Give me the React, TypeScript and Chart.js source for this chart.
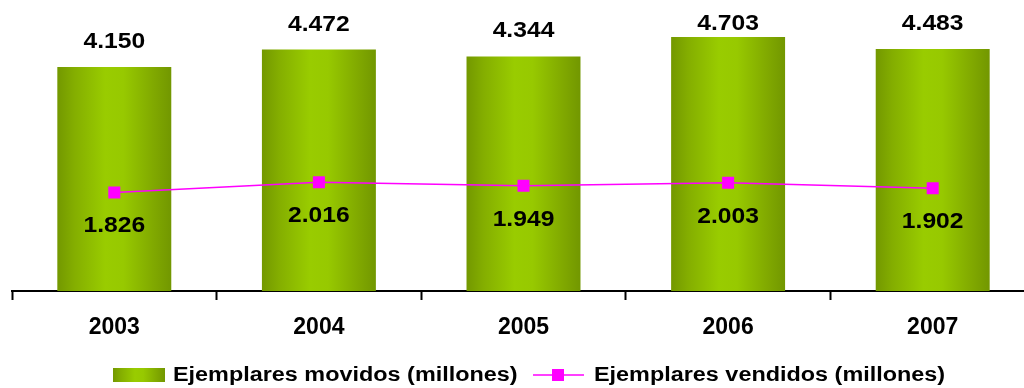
import React, { useEffect, useRef } from "react";
import { Chart, registerables } from "chart.js";

Chart.register(...registerables);

const categories = ["2003", "2004", "2005", "2006", "2007"];
const movidos = [4.15, 4.472, 4.344, 4.703, 4.483];
const vendidos = [1.826, 2.016, 1.949, 2.003, 1.902];
const seriesNames = ["Ejemplares movidos (millones)", "Ejemplares vendidos (millones)"];

const FONT = "'Liberation Sans', Arial, sans-serif";
const MAGENTA = "#FF00FF";
const BAR_PCT = 0.557;

function fmt(v: number) {
  return v.toFixed(3);
}

function barGradient(ctx: CanvasRenderingContext2D, x0: number, x1: number) {
  const g = ctx.createLinearGradient(x0, 0, x1, 0);
  g.addColorStop(0, "#739800");
  g.addColorStop(0.15, "#84AE00");
  g.addColorStop(0.42, "#99CC00");
  g.addColorStop(0.58, "#97C900");
  g.addColorStop(0.85, "#80A800");
  g.addColorStop(1, "#729700");
  return g;
}

function stretchedText(
  ctx: CanvasRenderingContext2D,
  text: string,
  x: number,
  y: number,
  size: number,
  sx: number,
  align: CanvasTextAlign
) {
  ctx.save();
  ctx.font = `bold ${size}px ${FONT}`;
  ctx.fillStyle = "#000";
  ctx.textAlign = align;
  ctx.textBaseline = "middle";
  ctx.translate(x, y);
  ctx.scale(sx, 1);
  ctx.fillText(text, 0, 0);
  ctx.restore();
}

const labelPlugin = {
  id: "valueLabels",
  afterDatasetsDraw(chart: any) {
    const ctx = chart.ctx as CanvasRenderingContext2D;
    const bars = chart.getDatasetMeta(0).data;
    bars.forEach((el: any, i: number) => {
      stretchedText(ctx, fmt(movidos[i]), el.x, Math.max(24, el.y - 25), 22, 1.12, "center");
    });
    const pts = chart.getDatasetMeta(1).data;
    pts.forEach((el: any, i: number) => {
      stretchedText(ctx, fmt(vendidos[i]), el.x, el.y + 34, 22, 1.12, "center");
    });
  },
};

const legendPlugin = {
  id: "customLegend",
  afterDraw(chart: any) {
    const ctx = chart.ctx as CanvasRenderingContext2D;
    const y = 375;
    ctx.save();
    ctx.fillStyle = barGradient(ctx, 113, 165);
    ctx.fillRect(113, y - 7, 52, 14);
    ctx.restore();
    stretchedText(ctx, seriesNames[0], 173, y, 20, 1.17, "left");
    ctx.save();
    ctx.strokeStyle = MAGENTA;
    ctx.lineWidth = 1.5;
    ctx.beginPath();
    ctx.moveTo(533, y);
    ctx.lineTo(584, y);
    ctx.stroke();
    ctx.fillStyle = MAGENTA;
    ctx.fillRect(552, y - 6, 12, 12);
    ctx.restore();
    stretchedText(ctx, seriesNames[1], 594, y, 20, 1.17, "left");
  },
};

export default function App() {
  const ref = useRef<HTMLCanvasElement | null>(null);

  useEffect(() => {
    if (!ref.current) return;
    const chart = new Chart(ref.current, {
      data: {
        labels: categories,
        datasets: [
          {
            type: "bar",
            label: seriesNames[0],
            data: movidos,
            order: 1,
            barPercentage: 1,
            categoryPercentage: BAR_PCT,
            borderWidth: 0,
            backgroundColor: (c: any) => {
              const ch = c.chart;
              const xs = ch.scales && ch.scales.x;
              if (!xs || c.dataIndex === undefined) return "#99CC00";
              const cx = xs.getPixelForValue(c.dataIndex);
              const w = (xs.width / categories.length) * BAR_PCT;
              if (!isFinite(cx) || !isFinite(w) || w <= 0) return "#99CC00";
              return barGradient(ch.ctx, cx - w / 2, cx + w / 2);
            },
          },
          {
            type: "line",
            label: seriesNames[1],
            data: vendidos,
            order: 0,
            borderColor: MAGENTA,
            borderWidth: 1.5,
            backgroundColor: MAGENTA,
            pointStyle: "rect",
            pointRadius: 8.5,
            pointBorderWidth: 0,
            pointBackgroundColor: MAGENTA,
            tension: 0,
          },
        ],
      } as any,
      options: {
        animation: false,
        responsive: false,
        maintainAspectRatio: false,
        layout: { autoPadding: false, padding: { left: 12, right: 15, top: 0, bottom: 0 } },
        plugins: {
          legend: { display: false },
          tooltip: { enabled: false },
          title: { display: false },
        },
        scales: {
          x: {
            offset: true,
            grid: {
              display: true,
              drawOnChartArea: false,
              drawTicks: true,
              tickLength: 9,
              tickWidth: 2,
              color: "#000",
              offset: true,
            },
            border: { display: true, color: "#000", width: 2 },
            ticks: {
              color: "#000",
              font: { family: FONT, size: 23, weight: "bold" },
              padding: 14,
            },
            afterFit: (s: any) => {
              s.height = 97;
            },
          },
          y: {
            display: false,
            min: 0,
            max: 291 / 54,
          },
        },
      },
      plugins: [labelPlugin, legendPlugin],
    } as any);
    return () => chart.destroy();
  }, []);

  return (
    <div
      style={{
        position: "fixed",
        left: 0,
        top: 0,
        width: 1024,
        height: 388,
        overflow: "hidden",
        background: "#fff",
      }}
    >
      <canvas ref={ref} width={1050} height={388} style={{ width: 1050, height: 388, display: "block" }} />
    </div>
  );
}
